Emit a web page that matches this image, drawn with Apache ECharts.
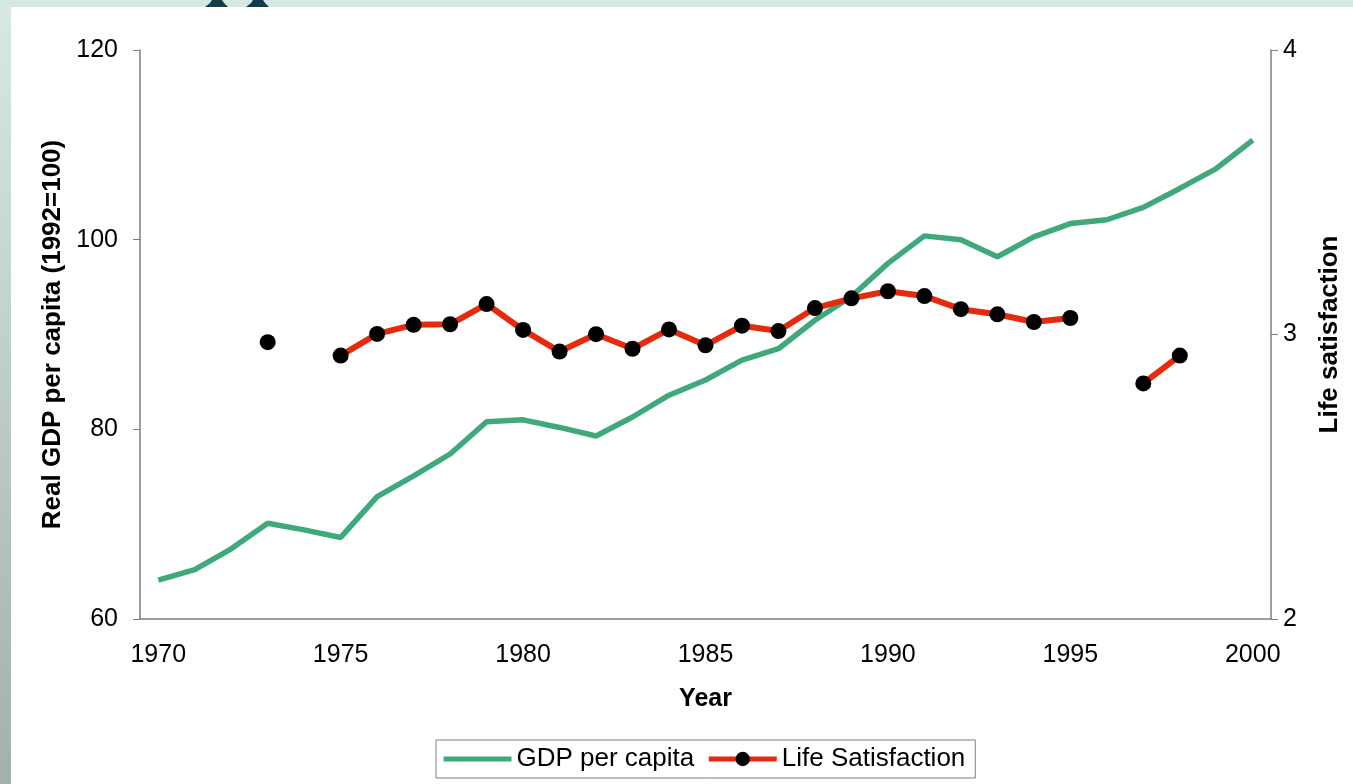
<!DOCTYPE html>
<html>
<head>
<meta charset="utf-8">
<title>GDP per capita and Life Satisfaction</title>
<script src="https://cdn.jsdelivr.net/npm/echarts@6/dist/echarts.min.js"></script>
<style>
  html, body { margin: 0; padding: 0; background: #fff; }
  #chart { width: 1353px; height: 784px; }
</style>
</head>
<body>
<div id="chart"></div>
<script>
// 年份（类别轴）
const years = ['1970', '1971', '1972', '1973', '1974', '1975', '1976', '1977', '1978', '1979',
  '1980', '1981', '1982', '1983', '1984', '1985', '1986', '1987', '1988', '1989',
  '1990', '1991', '1992', '1993', '1994', '1995', '1996', '1997', '1998', '1999', '2000']

// Real GDP per capita (1992=100)
const gdpPerCapita = [64.1, 65.2, 67.4, 70.1, 69.4, 68.6, 72.9, 75.1, 77.4, 80.8,
  81.0, 80.2, 79.3, 81.3, 83.6, 85.2, 87.3, 88.5, 91.5, 94.0,
  97.5, 100.4, 100.0, 98.2, 100.3, 101.7, 102.1, 103.4, 105.4, 107.5, 110.5]

// Life satisfaction, null = 缺失年份
const lifeSatisfaction = [null, null, null, 2.973, null, 2.926, 3.002, 3.034, 3.036, 3.107,
  3.016, 2.940, 3.001, 2.950, 3.018, 2.962, 3.031, 3.012, 3.093, 3.127,
  3.152, 3.135, 3.089, 3.071, 3.044, 3.058, null, 2.828, 2.926, null, null]

// 坐标轴刻度
const gdpTicks = [60, 80, 100, 120]
const lifeTicks = [2, 3, 4]

const font = '"Liberation Sans", Arial, sans-serif'
const axisColor = '#7f7f7f'
const gdpColor = '#3fa97b'
const lifeColor = '#e62a0d'

const chart = echarts.init(document.getElementById('chart'))

const option = {
  backgroundColor: '#ffffff',
  animation: false,
  textStyle: { fontFamily: font },
  // 幻灯片背景边框
  graphic: [
    {
      type: 'rect', left: 0, top: 0, z: -10,
      shape: { width: 11, height: 784 },
      style: {
        fill: new echarts.graphic.LinearGradient(0, 0, 0, 1, [
          { offset: 0, color: '#d8e9e3' },
          { offset: 1, color: '#a2b1aa' },
        ]),
      },
    },
    {
      type: 'rect', left: 0, top: 0, z: -10,
      shape: { width: 1353, height: 7 },
      style: { fill: '#d6e8e2' },
    },
    {
      type: 'polygon', z: -9,
      shape: { points: [[205, 7], [210, 3], [212, 0], [222, 0], [224, 3], [228, 7]] },
      style: { fill: '#143a4e' },
    },
    {
      type: 'polygon', z: -9,
      shape: { points: [[246, 7], [251, 3], [253, 0], [263, 0], [265, 3], [269, 7]] },
      style: { fill: '#143a4e' },
    },
  ],
  legend: {
    bottom: 6,
    left: 436,
    borderColor: '#808080',
    borderWidth: 1,
    padding: [6, 10, 6, 5],
    itemWidth: 68,
    itemHeight: 18,
    itemGap: 12,
    lineStyle: { width: 5 },
    textStyle: { fontSize: 26, color: '#000', fontFamily: font },
    data: [
      { name: 'GDP per capita', itemStyle: { opacity: 0 } },
      { name: 'Life Satisfaction' },
    ],
  },
  grid: { left: 140, right: 82, top: 50, bottom: 165, containLabel: false },
  xAxis: {
    type: 'category',
    data: years,
    boundaryGap: true,
    name: 'Year',
    nameLocation: 'middle',
    nameGap: 68,
    nameTextStyle: { fontSize: 25, fontWeight: 'bold', color: '#000', fontFamily: font },
    axisLine: { lineStyle: { color: axisColor, width: 1.5 } },
    axisTick: { interval: 4, length: 8, lineStyle: { color: '#333' } },
    axisLabel: { interval: 4, fontSize: 25, color: '#000', margin: 24, fontFamily: font },
    splitLine: { show: false },
  },
  yAxis: [
    {
      type: 'value',
      position: 'left',
      min: gdpTicks[0],
      max: gdpTicks[gdpTicks.length - 1],
      interval: gdpTicks[1] - gdpTicks[0],
      name: 'Real GDP per capita (1992=100)',
      nameLocation: 'middle',
      nameRotate: 90,
      nameGap: 74,
      nameTextStyle: { fontSize: 26, fontWeight: 'bold', color: '#000', fontFamily: font },
      axisLine: { show: true, lineStyle: { color: axisColor, width: 1.5 } },
      axisTick: { show: true, length: 7, lineStyle: { color: axisColor } },
      axisLabel: { fontSize: 25, color: '#000', margin: 22, fontFamily: font },
      splitLine: { show: false },
    },
    {
      type: 'value',
      position: 'right',
      min: lifeTicks[0],
      max: lifeTicks[lifeTicks.length - 1],
      interval: lifeTicks[1] - lifeTicks[0],
      name: 'Life satisfaction',
      nameLocation: 'middle',
      nameRotate: 90,
      nameGap: 46,
      nameTextStyle: { fontSize: 26, fontWeight: 'bold', color: '#000', fontFamily: font },
      axisLine: { show: true, lineStyle: { color: axisColor, width: 1.5 } },
      axisTick: { show: true, length: 7, lineStyle: { color: axisColor } },
      axisLabel: { fontSize: 25, color: '#000', margin: 12, fontFamily: font },
      splitLine: { show: false },
    },
  ],
  series: [
    {
      name: 'GDP per capita',
      type: 'line',
      yAxisIndex: 0,
      data: gdpPerCapita,
      symbol: 'none',
      lineStyle: { color: gdpColor, width: 5.5 },
      itemStyle: { color: gdpColor },
      z: 2,
    },
    {
      name: 'Life Satisfaction',
      type: 'line',
      yAxisIndex: 1,
      data: lifeSatisfaction,
      symbol: 'circle',
      symbolSize: 16,
      showAllSymbol: true,
      connectNulls: false,
      lineStyle: { color: lifeColor, width: 6 },
      itemStyle: { color: '#000000' },
      z: 3,
    },
  ],
}

chart.setOption(option)
window.addEventListener('resize', () => chart.resize())
</script>
</body>
</html>
